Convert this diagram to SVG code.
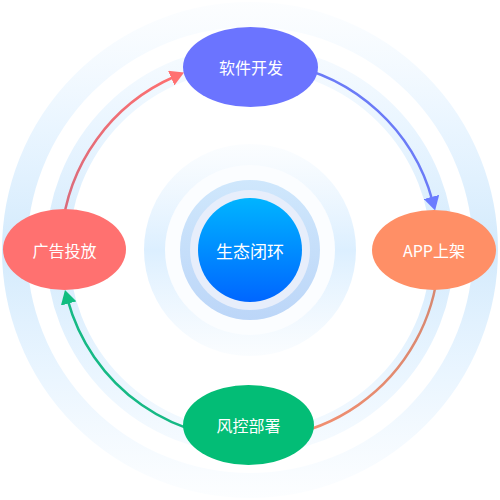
<svg xmlns="http://www.w3.org/2000/svg" width="500" height="500" viewBox="0 0 500 500">
<defs>
<style>
.lbl{font-family:"Noto Sans CJK SC","Noto Sans",sans-serif;font-size:16px;fill:#ffffff;text-anchor:middle;dominant-baseline:central}
.ctr{font-size:17px}
.conn{fill:none;stroke-width:2.5}
</style>
<linearGradient id="ringG" x1="0" y1="0" x2="0" y2="500" gradientUnits="userSpaceOnUse">
<stop offset="0" stop-color="#e4f2fe" stop-opacity="0.1"/>
<stop offset="0.25" stop-color="#dcefff" stop-opacity="0.6"/>
<stop offset="0.5" stop-color="#d3eafc"/>
<stop offset="0.75" stop-color="#dcefff" stop-opacity="0.6"/>
<stop offset="1" stop-color="#e4f2fe" stop-opacity="0.1"/>
</linearGradient>
<linearGradient id="haloG" x1="0" y1="144" x2="0" y2="356" gradientUnits="userSpaceOnUse">
<stop offset="0" stop-color="#e6f3fe" stop-opacity="0.15"/>
<stop offset="0.5" stop-color="#dcefff"/>
<stop offset="1" stop-color="#e6f3fe" stop-opacity="0.2"/>
</linearGradient>
<linearGradient id="midG" x1="0" y1="0" x2="0" y2="1">
<stop offset="0" stop-color="#cfe7fc"/>
<stop offset="1" stop-color="#bcd6f8"/>
</linearGradient>
<linearGradient id="coreG" x1="0" y1="0" x2="0" y2="1">
<stop offset="0" stop-color="#00b4ff"/>
<stop offset="1" stop-color="#0066ff"/>
</linearGradient>
<linearGradient id="redG" x1="65" y1="230" x2="184" y2="73" gradientUnits="userSpaceOnUse">
<stop offset="0" stop-color="#d56b7d"/>
<stop offset="1" stop-color="#ff7070"/>
</linearGradient>
<linearGradient id="orgG" x1="438" y1="266" x2="201" y2="432" gradientUnits="userSpaceOnUse">
<stop offset="0" stop-color="#d48770"/>
<stop offset="1" stop-color="#ff9270"/>
</linearGradient>
<marker id="arRed" viewBox="0 0 14 16" markerWidth="14" markerHeight="16" refX="4" refY="8" orient="auto" markerUnits="userSpaceOnUse"><path d="M0,0 L14,8 L0,16 z" fill="#ff7171"/></marker>
<marker id="arBlue" viewBox="0 0 14 16" markerWidth="14" markerHeight="16" refX="4" refY="8" orient="auto" markerUnits="userSpaceOnUse"><path d="M0,0 L14,8 L0,16 z" fill="#6a7bff"/></marker>
<marker id="arGreen" viewBox="0 0 14 16" markerWidth="14" markerHeight="16" refX="4" refY="8" orient="auto" markerUnits="userSpaceOnUse"><path d="M0,0 L14,8 L0,16 z" fill="#10bd80"/></marker>
</defs>
<rect width="500" height="500" fill="#ffffff"/>
<g id="rings">
<circle cx="250" cy="250" r="235.5" fill="none" stroke="url(#ringG)" stroke-width="25"/>
<circle cx="250" cy="250" r="192.5" fill="none" stroke="url(#ringG)" stroke-width="23"/>
</g>
<g id="connectors">
<path class="conn" stroke="url(#redG)" d="M 61.7 233.5 A 189 189 0 0 1 174.9 76.5" marker-end="url(#arRed)"/>
<path class="conn" stroke="#6b7bf7" d="M 282.8 63.9 A 189 189 0 0 1 432.5 200.8" marker-end="url(#arBlue)"/>
<path class="conn" stroke="url(#orgG)" d="M 438.3 266.5 A 189 189 0 0 1 201.1 432.6"/>
<path class="conn" stroke="#16b985" d="M 266.5 438.3 A 189 189 0 0 1 67.6 299.6" marker-end="url(#arGreen)"/>
</g>
<g id="center">
<circle cx="250" cy="250" r="106" fill="url(#haloG)"/>
<circle cx="250" cy="250" r="85" fill="#fbfdff"/>
<circle cx="250" cy="250" r="70" fill="url(#midG)"/>
<circle cx="250" cy="250" r="60" fill="#e7eefb"/>
<circle cx="250" cy="250" r="52" fill="url(#coreG)"/>
<text class="lbl ctr" x="250" y="250">生态闭环</text>
</g>
<g id="node-dev">
<ellipse cx="250.5" cy="67" rx="67.5" ry="40" fill="#6b74ff"/>
<text class="lbl" x="251" y="67">软件开发</text>
</g>
<g id="node-app">
<ellipse cx="434" cy="250" rx="62" ry="40" fill="#ff8f66"/>
<text class="lbl" x="434" y="250">APP上架</text>
</g>
<g id="node-risk">
<ellipse cx="248.5" cy="425" rx="65.5" ry="40" fill="#03bd76"/>
<text class="lbl" x="248.5" y="425">风控部署</text>
</g>
<g id="node-ads">
<ellipse cx="64.5" cy="249.5" rx="61.5" ry="40.5" fill="#ff7170"/>
<text class="lbl" x="64.5" y="250">广告投放</text>
</g>
</svg>
